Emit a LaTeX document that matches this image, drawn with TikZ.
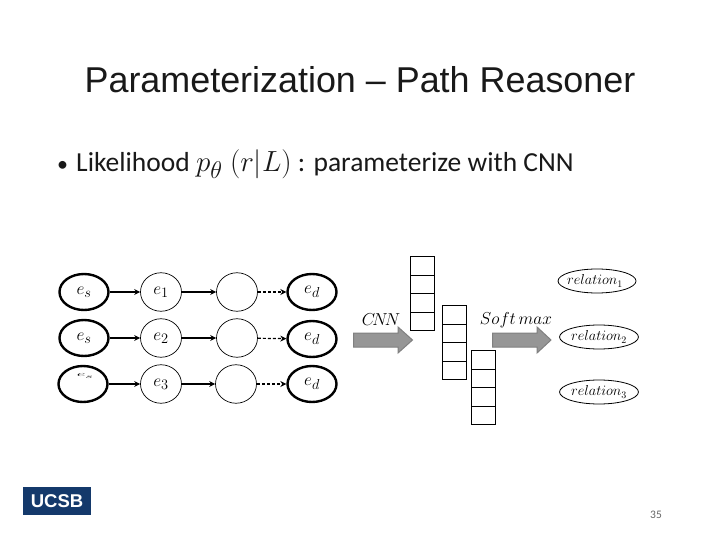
\documentclass[tikz,border=0pt]{standalone}
\usepackage{fontspec}
\setmainfont{Liberation Sans}
\newfontfamily\bodyfont{Carlito}
\usetikzlibrary{shapes.geometric,arrows.meta}
\definecolor{ucsbblue}{HTML}{14396B}
\tikzset{
  x=1pt,y=-1pt,
  ent/.style={draw=black,line width=2.4pt,ellipse,minimum width=49pt,minimum height=36pt,inner sep=0pt,font=\fontsize{19}{19}\selectfont},
  mid/.style={draw=black,line width=0.7pt,ellipse,minimum width=41pt,minimum height=38.5pt,inner sep=0pt,font=\fontsize{19}{19}\selectfont},
  rel/.style={draw=black,line width=0.8pt,ellipse,minimum width=78pt,minimum height=24pt,inner sep=0pt,font=\fontsize{14.5}{14.5}\selectfont},
  link/.style={-{Stealth[length=6pt,width=6pt]},line width=1.2pt},
  dlink/.style={link,dash pattern=on 3pt off 2pt},
  cell/.style={draw=black,line width=0.7pt,minimum width=24pt,minimum height=18.6pt,inner sep=0pt,anchor=north west},
  blockarrow/.style={fill=black!41,draw=black!50,line width=1pt},
  lab/.style={font=\fontsize{17}{17}\selectfont,inner sep=0pt},
}
\begin{document}
\begin{tikzpicture}
\useasboundingbox (0,0) rectangle (720,540);
\fill[white] (0,0) rectangle (720,540);
\node[anchor=base,inner sep=0pt,font=\fontsize{35.9}{36}\selectfont,text=black!90] (title) at (360,93) {Parameterization – Path Reasoner};
\node[anchor=base west,inner sep=0pt,font=\bodyfont\fontsize{27.5}{27.5}\selectfont,text=black!90] (body) at (57,172)
  {\makebox[19pt][l]{\fontsize{22}{22}\selectfont •}Likelihood \scalebox{1.17}{$p_\theta$ $(r|L)$} : parameterize with CNN};

% row 1
\node[ent] (s1) at (84,292) {$e_s$};
\node[mid] (a1) at (161,292) {$e_1$};
\node[mid] (b1) at (237,292) {};
\node[ent] (d1) at (312,292) {$e_d$};
% row 2
\node[ent] (s2) at (84,338) {$e_s$};
\node[mid] (a2) at (161,338) {$e_2$};
\node[mid] (b2) at (237,338) {};
\node[ent] (d2) at (312,339) {$e_d$};
% row 3
\node[ent] (s3) at (83,384) {};
\node[inner sep=0pt,yscale=0.4,xscale=1.1,font=\fontsize{19}{19}\selectfont] (s3t) at (85,376) {$e_s$};
\node[mid] (a3) at (161,384) {$e_3$};
\node[mid] (b3) at (236,384) {};
\node[ent] (d3) at (312,384) {$e_d$};

\foreach \r in {1,2,3}{
  \draw[link] (s\r) -- (a\r);
  \draw[link] (a\r) -- (b\r);
  \draw[dlink] (b\r) -- (d\r);
}

% stacks
\foreach \i/\y in {1/256,2/274.6,3/293.2,4/311.8}{\node[cell] (p\i) at (410,\y) {};}
\foreach \i/\y in {1/305,2/323.6,3/342.2,4/360.8}{\node[cell] (q\i) at (442,\y) {};}
\foreach \i/\y in {1/350,2/368.6,3/387.2,4/405.8}{\node[cell] (t\i) at (471,\y) {};}

% block arrows
\draw[blockarrow] (353.5,333) -- (398,333) -- (398,327) -- (412.5,340) -- (398,353) -- (398,347) -- (353.5,347) -- cycle;
\draw[blockarrow] (492.5,333) -- (537,333) -- (537,327) -- (551,340) -- (537,353) -- (537,347) -- (492.5,347) -- cycle;
\node[lab] (cnn) at (381,320) {$C\!N\!N$};
\node[lab] (soft) at (516,320) {$Soft\,max$};

% relations
\node[rel] (r1) at (597,281) {\hspace*{-4pt}$relation_1$};
\node[rel] (r2) at (599,337) {$relation_2$};
\node[rel] (r3) at (599,392) {$relation_3$};

% logo
\node[fill=ucsbblue,text=white,minimum width=68pt,minimum height=28pt,inner sep=0pt,font=\fontsize{18.5}{18.5}\selectfont\bfseries] (logo) at (57,501) {UCSB};
\node[inner sep=0pt,text=black!60,font=\bodyfont\fontsize{11.5}{11.5}\selectfont] (page) at (656,515) {35};
\end{tikzpicture}
\end{document}
